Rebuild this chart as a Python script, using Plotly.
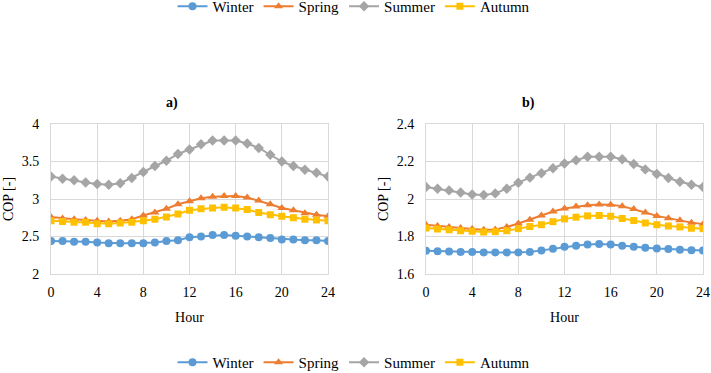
import plotly.graph_objects as go

hours = list(range(25))

# Panel a)
a_winter = [2.44, 2.44, 2.43, 2.43, 2.42, 2.41, 2.41, 2.41, 2.41, 2.42, 2.44, 2.45, 2.49, 2.50, 2.52, 2.52, 2.51, 2.50, 2.49, 2.48, 2.46, 2.46, 2.45, 2.45, 2.44]
a_spring = [2.76, 2.74, 2.73, 2.72, 2.71, 2.70, 2.71, 2.73, 2.78, 2.82, 2.87, 2.93, 2.97, 3.01, 3.03, 3.04, 3.04, 3.02, 2.98, 2.93, 2.88, 2.85, 2.81, 2.79, 2.77]
a_summer = [3.30, 3.27, 3.25, 3.22, 3.20, 3.19, 3.21, 3.28, 3.36, 3.44, 3.51, 3.60, 3.66, 3.73, 3.78, 3.78, 3.78, 3.74, 3.68, 3.59, 3.50, 3.44, 3.39, 3.35, 3.30]
a_autumn = [2.71, 2.70, 2.69, 2.69, 2.67, 2.67, 2.68, 2.69, 2.71, 2.73, 2.76, 2.80, 2.85, 2.87, 2.88, 2.89, 2.88, 2.86, 2.82, 2.79, 2.77, 2.75, 2.73, 2.72, 2.71]

# Panel b)
b_winter = [1.724, 1.722, 1.720, 1.718, 1.717, 1.715, 1.715, 1.715, 1.715, 1.718, 1.726, 1.735, 1.745, 1.751, 1.758, 1.760, 1.758, 1.751, 1.745, 1.740, 1.736, 1.733, 1.729, 1.727, 1.726]
b_spring = [1.863, 1.856, 1.851, 1.845, 1.840, 1.836, 1.838, 1.851, 1.869, 1.890, 1.912, 1.933, 1.949, 1.960, 1.967, 1.971, 1.969, 1.962, 1.947, 1.928, 1.910, 1.897, 1.887, 1.874, 1.866]
b_summer = [2.064, 2.055, 2.046, 2.035, 2.024, 2.021, 2.030, 2.055, 2.087, 2.114, 2.137, 2.164, 2.189, 2.207, 2.225, 2.225, 2.225, 2.212, 2.187, 2.158, 2.133, 2.112, 2.092, 2.076, 2.064]
b_autumn = [1.845, 1.840, 1.836, 1.831, 1.828, 1.824, 1.826, 1.831, 1.842, 1.853, 1.863, 1.879, 1.894, 1.903, 1.910, 1.912, 1.908, 1.896, 1.885, 1.872, 1.863, 1.856, 1.851, 1.844, 1.842]

series_names = ["Winter", "Spring", "Summer", "Autumn"]
colors = ["#5B9BD5", "#ED7D31", "#A5A5A5", "#FFC000"]
symbols = ["circle", "triangle-up", "diamond", "square"]
sizes = [8, 8, 8, 7]

FONT = "Liberation Serif"
W, H = 711, 373

def px_x(v):
    return v / W

def px_y(v):
    return 1 - v / H

fig = go.Figure()

for data, xa, ya, leg in [
    ([a_winter, a_spring, a_summer, a_autumn], "x", "y", "legend"),
    ([b_winter, b_spring, b_summer, b_autumn], "x2", "y2", "legend2"),
]:
    for name, vals, c, s, sz in zip(series_names, data, colors, symbols, sizes):
        fig.add_trace(go.Scatter(
            x=hours, y=vals, name=name, mode="lines+markers",
            line=dict(color=c, width=2),
            marker=dict(color=c, symbol=s, size=sz),
            xaxis=xa, yaxis=ya, legend=leg,
        ))

grid = "#D9D9D9"
tickfont = dict(family=FONT, size=14, color="#000000")
titlefont = dict(family=FONT, size=14, color="#000000")
common_x = dict(range=[0, 24], tickvals=[0, 4, 8, 12, 16, 20, 24], showgrid=True, gridcolor=grid,
                showline=True, linecolor=grid, mirror=True, zeroline=False, ticks="",
                automargin=False, ticklabeloverflow="allow", ticklabelstandoff=5,
                tickfont=tickfont, title=dict(text="Hour", font=titlefont, standoff=13))
common_y = dict(showgrid=True, gridcolor=grid, showline=True, linecolor=grid, mirror=True,
                zeroline=False, ticks="", tickfont=tickfont, automargin=False,
                ticklabelstandoff=8,
                title=dict(text="COP [-]", font=titlefont, standoff=4))

ydom = [px_y(274), px_y(124)]
fig.update_layout(
    template="none",
    width=W, height=H,
    margin=dict(l=0, r=0, t=0, b=0, pad=0, autoexpand=False),
    plot_bgcolor="white", paper_bgcolor="white",
    font=dict(family=FONT, color="#000"),
    xaxis=dict(domain=[px_x(51), px_x(328)], anchor="y", **common_x),
    yaxis=dict(domain=ydom, anchor="x", range=[2, 4], tickvals=[2, 2.5, 3, 3.5, 4], **common_y),
    xaxis2=dict(domain=[px_x(426), px_x(703)], anchor="y2", **common_x),
    yaxis2=dict(domain=ydom, anchor="x2", range=[1.6, 2.4], tickvals=[1.6, 1.8, 2.0, 2.2, 2.4],
                ticktext=["1.6", "1.8", "2", "2.2", "2.4"], **common_y),
    legend=dict(orientation="h", x=px_x(354), xanchor="center", y=1 + 10 / H, yanchor="top",
                font=dict(family=FONT, size=15, color="#000"), itemwidth=30,
                bgcolor="rgba(0,0,0,0)"),
    legend2=dict(orientation="h", x=px_x(354), xanchor="center", y=px_y(346), yanchor="top",
                 font=dict(family=FONT, size=15, color="#000"), itemwidth=30,
                 bgcolor="rgba(0,0,0,0)"),
    annotations=[
        dict(text="<b>a)</b>", x=px_x(164), y=px_y(93), xref="paper", yref="paper",
             showarrow=False, font=dict(family=FONT, size=14, color="#000")),
        dict(text="<b>b)</b>", x=px_x(537), y=px_y(93), xref="paper", yref="paper",
             showarrow=False, font=dict(family=FONT, size=14, color="#000")),
    ],
)

fig.write_html("out.html", config={"displayModeBar": False},
               post_script="document.body.style.margin='0';")
